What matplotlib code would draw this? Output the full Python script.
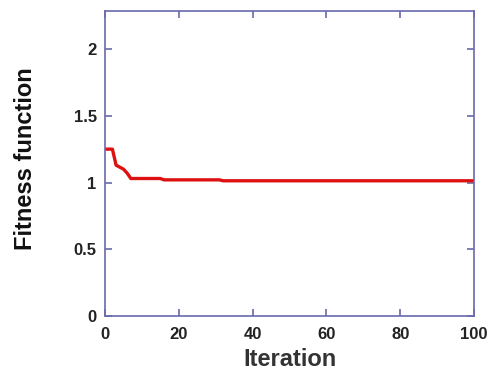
import matplotlib
matplotlib.use('Agg')
import matplotlib.pyplot as plt

# convergence curve (breakpoints)
iteration = [0, 2, 3, 5, 6, 7, 15, 16, 31, 32, 100]
fitness = [1.25, 1.25, 1.13, 1.10, 1.07, 1.03, 1.03, 1.02, 1.02, 1.013, 1.013]

xticks = [0, 20, 40, 60, 80, 100]
yticks = [0, 0.5, 1, 1.5, 2]
ytick_labels = ['0', '0.5', '1', '1.5', '2']

plt.rcParams['font.family'] = ['Liberation Sans', 'DejaVu Sans']

fig = plt.figure(figsize=(4.94, 3.82), dpi=100)
ax = fig.add_axes([0.2126, 0.1728, 0.7469, 0.7984])

ax.plot(iteration, fitness, color='#dd1111', linewidth=2.4)

ax.set_xlim(0, 100)
ax.set_ylim(0, 2.285)
ax.set_xticks(xticks)
ax.set_yticks(yticks)
ax.set_yticklabels(ytick_labels)

spine_col = '#6a6aae'
for s in ax.spines.values():
    s.set_color(spine_col)
    s.set_linewidth(1.2)
ax.tick_params(direction='in', length=5, width=1.2, color=spine_col,
               top=True, right=True, labelsize=12, pad=6)
ax.tick_params(axis='x', pad=8)
for lbl in ax.get_xticklabels() + ax.get_yticklabels():
    lbl.set_fontweight('bold')
    lbl.set_color('#222222')

ax.set_xlabel('Iteration', fontsize=17, fontweight='bold', color='#333333', labelpad=4)
ax.set_ylabel('Fitness function', fontsize=17, fontweight='bold', color='#111111')
ax.yaxis.set_label_coords(-0.185, 0.515)

plt.savefig('out.png', dpi=100)
